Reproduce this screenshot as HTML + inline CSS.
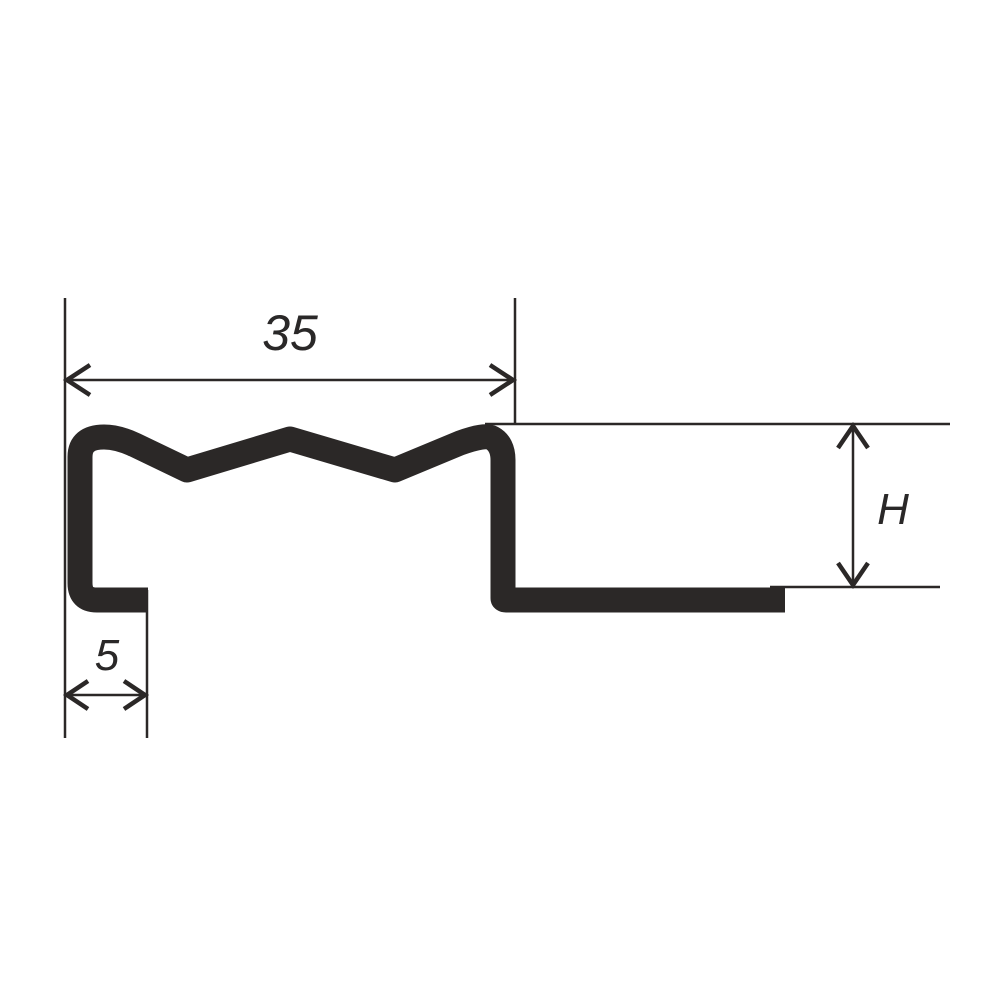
<!DOCTYPE html>
<html><head><meta charset="utf-8"><style>
html,body{margin:0;padding:0;background:#fff;}
svg{display:block;}
text{font-family:"Liberation Sans","DejaVu Sans",sans-serif;font-style:italic;fill:#2a2828;}
</style></head><body>
<svg width="1000" height="1000" viewBox="0 0 1000 1000" xmlns="http://www.w3.org/2000/svg">
<g stroke="#2b2827" fill="none" stroke-width="2.5">
  <line x1="65" y1="298" x2="65" y2="738"/>
  <line x1="515" y1="298" x2="515" y2="424"/>
  <line x1="147" y1="590" x2="147" y2="738"/>
  <line x1="485" y1="424" x2="950" y2="424"/>
  <line x1="770" y1="587" x2="940" y2="587"/>
  <line x1="67" y1="380" x2="513" y2="380"/>
  <line x1="67" y1="695" x2="145" y2="695"/>
  <line x1="853" y1="426" x2="853" y2="585"/>
</g>
<g stroke="#2b2827" fill="none" stroke-width="4.5" stroke-linecap="butt" stroke-linejoin="miter">
  <polyline points="90,365 67,380 90,395"/>
  <polyline points="490,365 513,380 490,395"/>
  <polyline points="88,681 67,695 88,709"/>
  <polyline points="124,681 145,695 124,709"/>
  <polyline points="838,448 853,426 868,448"/>
  <polyline points="838,563 853,585 868,563"/>
</g>
<g stroke="#2b2827" fill="none" stroke-width="25" stroke-linejoin="round">
  <path d="M148,600 H97 Q80,600 80,583 V457 Q80,437 104,437 Q118,437 135,445 L187,470 L290,439 L395,470 L460,443 Q485,434 492,438 Q503,444 503,460 V598 Q503,600 506,600 H785"/>
</g>
<text x="290" y="350" font-size="50" text-anchor="middle">35</text>
<text x="107" y="670" font-size="44" text-anchor="middle">5</text>
<text x="893" y="524" font-size="44" text-anchor="middle">H</text>
</svg>
</body></html>
